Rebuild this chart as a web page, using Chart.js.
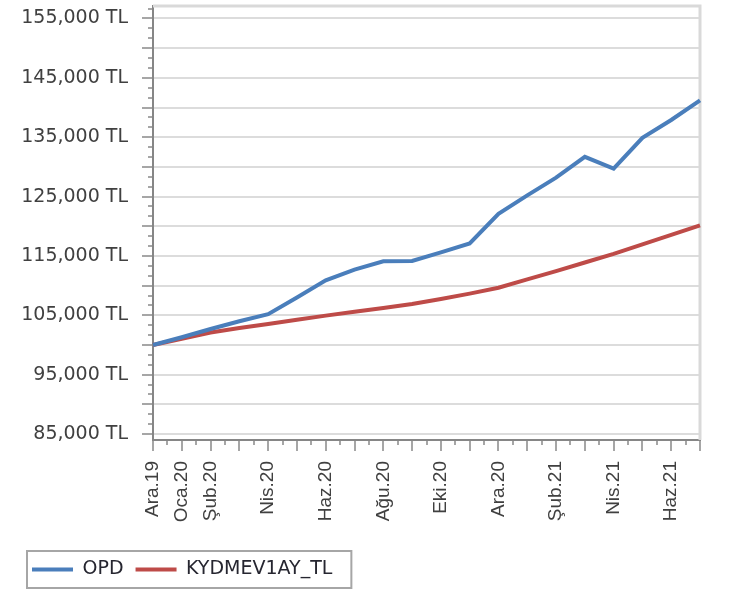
<!DOCTYPE html>
<html>
<head>
<meta charset="utf-8">
<script src="https://cdn.jsdelivr.net/npm/chart.js@4"></script>
<style>
  html, body { margin: 0; padding: 0; background: #fff; }
  #wrap { width: 729px; height: 589px; }
</style>
</head>
<body>
<div id="wrap"><canvas id="canvas1"></canvas></div>
<script>
// Donnees (mensuel, Ara.19 -> Tem.21)
let months = ['Ara.19','Oca.20','Şub.20','Mar.20','Nis.20','May.20','Haz.20','Tem.20','Ağu.20','Eyl.20',
              'Eki.20','Kas.20','Ara.20','Oca.21','Şub.21','Mar.21','Nis.21','May.21','Haz.21','Tem.21'];
let shownMonths = [0, 1, 2, 4, 6, 8, 10, 12, 14, 16, 18];

let opd = [100000, 101300, 102700, 104000, 105200, 108000, 110900, 112700, 114100, 114150,
           115600, 117100, 122100, 125200, 128200, 131700, 129700, 134900, 137900, 141200];
let kydmev = [100000, 101050, 102100, 102850, 103550, 104250, 104950, 105600, 106250, 106900,
              107750, 108650, 109650, 111050, 112450, 113900, 115350, 116950, 118550, 120150];

let yMin = 84000;
let yMax = 157100;
let yStep = 5000;

// pas de marge auto autour des axes
function noPad(scale) {
    scale.paddingTop = 0;
    scale.paddingBottom = 0;
    scale.paddingLeft = 0;
    scale.paddingRight = 0;
}

// cadre haut / droite + bordure legende
let framePlugin = {
    id: 'frame',
    beforeDatasetsDraw(chart) {
        let ctx = chart.ctx;
        let a = chart.chartArea;
        ctx.save();
        ctx.strokeStyle = '#d9d9d9';
        ctx.lineWidth = 3;
        ctx.beginPath();
        ctx.moveTo(a.left, a.top);
        ctx.lineTo(a.right, a.top);
        ctx.lineTo(a.right, a.bottom);
        ctx.stroke();
        ctx.restore();
    },
    afterDraw(chart) {
        let boxes = chart.legend.legendHitBoxes;
        if (!boxes || !boxes.length) return;
        let first = boxes[0];
        let last = boxes[boxes.length - 1];
        let ctx = chart.ctx;
        ctx.save();
        ctx.strokeStyle = '#a6a6a6';
        ctx.lineWidth = 2;
        ctx.strokeRect(first.left - 5, first.top - 9, last.left + last.width - first.left + 24, first.height + 18);
        ctx.restore();
    }
};

let canvas = document.getElementById('canvas1');
let ctx = canvas.getContext('2d');

let config = {
    type: 'line',
    data: {
        labels: months,
        datasets: [{
            label: 'OPD',
            data: opd,
            borderColor: '#4a7ebb',
            backgroundColor: '#4a7ebb',
            borderWidth: 4,
            pointRadius: 0,
            tension: 0,
            xAxisID: 'x',
            yAxisID: 'y'
        }, {
            label: 'KYDMEV1AY_TL',
            data: kydmev,
            borderColor: '#be4b48',
            backgroundColor: '#be4b48',
            borderWidth: 4,
            pointRadius: 0,
            tension: 0,
            xAxisID: 'x',
            yAxisID: 'y'
        }]
    },
    options: {
        responsive: true,
        maintainAspectRatio: false,
        animation: false,
        layout: {
            padding: { left: 20, right: 29, top: 6, bottom: 0 }
        },
        plugins: {
            tooltip: { enabled: false },
            legend: {
                position: 'bottom',
                align: 'start',
                labels: {
                    usePointStyle: true,
                    pointStyle: 'line',
                    pointStyleWidth: 41,
                    padding: 12,
                    color: '#262630',
                    font: { family: 'DejaVu Sans', size: 19 }
                }
            }
        },
        scales: {
            x: {
                type: 'category',
                position: 'bottom',
                weight: 1,
                offset: false,
                grid: {
                    drawOnChartArea: false,
                    drawTicks: true,
                    tickLength: 11,
                    tickColor: '#a6a6a6',
                    lineWidth: 2
                },
                border: { display: true, color: '#868686', width: 2 },
                ticks: {
                    autoSkip: false,
                    maxRotation: 90,
                    minRotation: 90,
                    padding: 10,
                    color: '#404040',
                    font: { family: 'Liberation Sans', size: 19 },
                    callback: function (value, index) {
                        return shownMonths.includes(index) ? months[index] : '';
                    }
                },
                afterFit: function (scale) { scale.height = 108; noPad(scale); }
            },
            xMinor: {
                type: 'linear',
                position: 'bottom',
                weight: 0,
                min: 0,
                max: months.length - 1,
                grid: { drawOnChartArea: false, drawTicks: true, tickLength: 5, tickColor: '#a6a6a6', lineWidth: 2 },
                border: { display: false },
                ticks: { display: false },
                afterBuildTicks: function (scale) {
                    let t = [];
                    for (let i = 0; i < months.length - 1; i++) t.push({ value: i + 0.5 });
                    scale.ticks = t;
                },
                afterFit: function (scale) { scale.height = 0; noPad(scale); }
            },
            y: {
                type: 'linear',
                position: 'left',
                weight: 1,
                min: yMin,
                max: yMax,
                grid: {
                    color: '#dcdcdc',
                    lineWidth: 2,
                    drawTicks: true,
                    tickLength: 11,
                    tickColor: '#a6a6a6'
                },
                border: { display: true, color: '#868686', width: 2 },
                ticks: {
                    padding: 14,
                    color: '#404040',
                    font: { family: 'DejaVu Sans', size: 19 },
                    callback: function (value) {
                        if (value % 10000 !== 5000) return '';
                        return value.toLocaleString('en-US') + ' TL';
                    }
                },
                afterBuildTicks: function (scale) {
                    let t = [];
                    for (let v = Math.ceil(yMin / yStep) * yStep; v <= yMax; v += yStep) t.push({ value: v });
                    scale.ticks = t;
                },
                afterFit: function (scale) { scale.width = 133; noPad(scale); }
            },
            yMinor: {
                type: 'linear',
                position: 'left',
                weight: 0,
                min: yMin,
                max: yMax,
                grid: { drawOnChartArea: false, drawTicks: true, tickLength: 5, tickColor: '#a6a6a6', lineWidth: 2 },
                border: { display: false },
                ticks: { display: false },
                afterBuildTicks: function (scale) {
                    let t = [];
                    let minor = yStep / 3;
                    let start = Math.ceil(yMin / yStep) * yStep - yStep;
                    for (let k = 0; start + k * minor <= yMax; k++) {
                        let v = start + k * minor;
                        if (v >= yMin && k % 3 !== 0) t.push({ value: v });
                    }
                    scale.ticks = t;
                },
                afterFit: function (scale) { scale.width = 0; noPad(scale); }
            }
        }
    },
    plugins: [framePlugin]
};

let chart = new Chart(ctx, config);
</script>
</body>
</html>
